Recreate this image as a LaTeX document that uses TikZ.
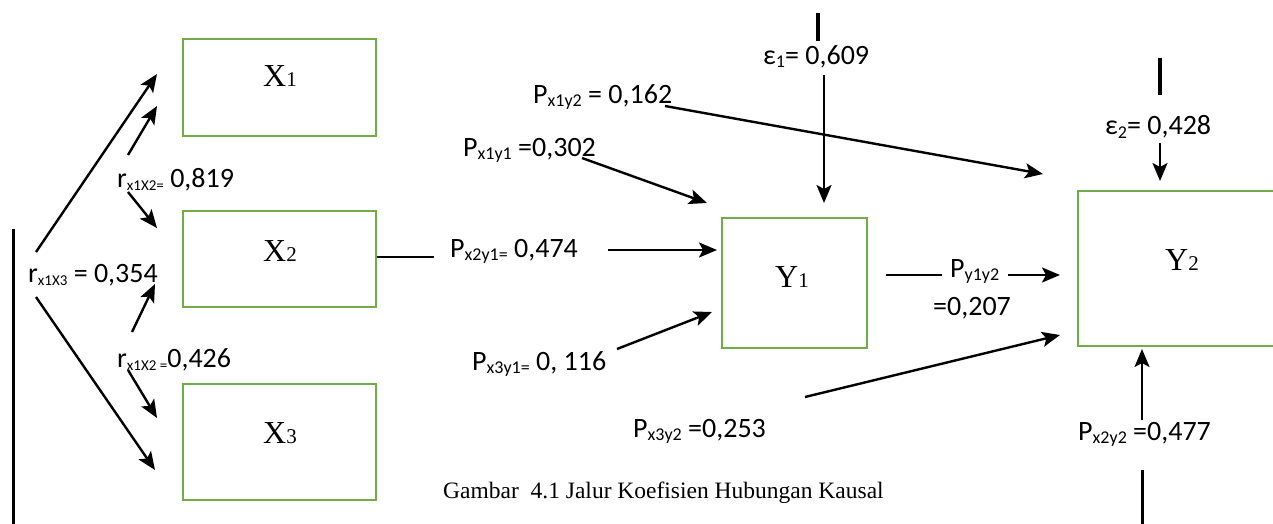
\documentclass[tikz,border=0pt]{standalone}
\usepackage{fontspec}
\setmainfont{Carlito}
\newfontfamily\tnr{Liberation Serif}
\usetikzlibrary{arrows.meta}
\definecolor{boxgreen}{RGB}{112,173,71}
\newcommand\subr[1]{\raisebox{-3pt}{\fontsize{15}{15}\selectfont #1}}
\newcommand\subp[1]{\raisebox{-3pt}{\fontsize{18}{18}\selectfont #1}}
\newcommand\subv[1]{{\fontsize{21}{21}\selectfont #1}}
\newcommand\lblfont{\fontsize{28}{30}\selectfont}
\begin{document}
\begin{tikzpicture}[x=1pt,y=-1pt,
 box/.style={draw=boxgreen,line width=2.4pt,inner sep=0pt},
 lab/.style={anchor=base west,inner sep=0pt,font=\lblfont},
 vlab/.style={anchor=base west,inner sep=0pt,font=\tnr\fontsize{32}{34}\selectfont},
 arr/.style={line width=2.4pt,-{Stealth[length=18pt,width=15pt,inset=4pt]}},
 ln/.style={line width=2.4pt},
 bar/.style={line width=4pt},
 ]
\useasboundingbox (0,0) rectangle (1273,524);
% boxes
\node[box,minimum width=193pt,minimum height=97pt] (X1) at (279.5,87.5) {};
\node[box,minimum width=193pt,minimum height=96pt] (X2) at (279.5,258.7) {};
\node[box,minimum width=193pt,minimum height=116pt] (X3) at (279.5,442) {};
\node[box,minimum width=145pt,minimum height=130pt] (Y1) at (794.5,283) {};
\node[box,minimum width=198pt,minimum height=155pt] (Y2) at (1177,268.5) {};
% box labels
\node[vlab] (tX1) at (263,87) {X\subv{1}};
\node[vlab] (tX2) at (263,261) {X\subv{2}};
\node[vlab] (tX3) at (263,443) {X\subv{3}};
\node[vlab] (tY1) at (775,287) {Y\subv{1}};
\node[vlab] (tY2) at (1165,270) {Y\subv{2}};
% coordinates
\coordinate (lbT) at (13,229); \coordinate (lbB) at (13,524);
\coordinate (a1s) at (36,252); \coordinate (a1e) at (157,74);
\coordinate (a2s) at (36,297); \coordinate (a2e) at (155,470);
\coordinate (a3s) at (128,155); \coordinate (a3e) at (157,106);
\coordinate (a4s) at (128,192); \coordinate (a4e) at (157,228);
\coordinate (a5s) at (132,332); \coordinate (a5e) at (155,284);
\coordinate (a6s) at (128,370); \coordinate (a6e) at (157,418);
\coordinate (x2out) at (434,257);
\coordinate (b1s) at (608,250); \coordinate (b1e) at (717,250);
\coordinate (b2s) at (582,158); \coordinate (b2e) at (707,203);
\coordinate (b3s) at (665,106); \coordinate (b3e) at (1043,174);
\coordinate (e1a) at (818,13); \coordinate (e1b) at (818,41);
\coordinate (e1s) at (824,75); \coordinate (e1e) at (824,203);
\coordinate (b4s) at (617,349); \coordinate (b4e) at (712,312);
\coordinate (b5s) at (805,397); \coordinate (b5e) at (1060,335);
\coordinate (c1s) at (886,275); \coordinate (c1m) at (942,275);
\coordinate (c1n) at (1008,275); \coordinate (c1e) at (1060,275);
\coordinate (e2a) at (1160,58); \coordinate (e2b) at (1160,95);
\coordinate (e2s) at (1160,143); \coordinate (e2e) at (1160,181);
\coordinate (d1s) at (1142,420); \coordinate (d1e) at (1142,349);
\coordinate (d2a) at (1142,470); \coordinate (d2b) at (1142,524);
% connectors
\draw[line width=3pt] (lbT) -- (lbB);
\draw[arr] (a1s) -- (a1e);
\draw[arr] (a2s) -- (a2e);
\draw[arr] (a3s) -- (a3e);
\draw[arr] (a4s) -- (a4e);
\draw[arr] (a5s) -- (a5e);
\draw[arr] (a6s) -- (a6e);
\draw[ln] (X2.east |- x2out) -- (x2out);
\draw[arr] (b1s) -- (b1e);
\draw[arr] (b2s) -- (b2e);
\draw[arr] (b3s) -- (b3e);
\draw[bar] (e1a) -- (e1b);
\draw[arr] (e1s) -- (e1e);
\draw[arr] (b4s) -- (b4e);
\draw[arr] (b5s) -- (b5e);
\draw[ln] (c1s) -- (c1m);
\draw[arr] (c1n) -- (c1e);
\draw[bar] (e2a) -- (e2b);
\draw[arr] (e2s) -- (e2e);
\draw[arr] (d1s) -- (d1e);
\draw[line width=3pt] (d2a) -- (d2b);
% labels
\node[lab] (r12) at (117,187) {r\subr{x1X2=} 0,819};
\node[lab] (r13) at (28,282) {r\subr{x1X3} = 0,354};
\node[lab] (r23) at (117,367) {r\subr{x1X2 =}0,426};
\node[lab] (p12) at (533,103) {P\subp{x1y2} = 0,162};
\node[lab] (p11) at (463,156) {P\subp{x1y1} =0,302};
\node[lab] (p21) at (450,257) {P\subp{x2y1=} 0,474};
\node[lab] (p31) at (472,370) {P\subp{x3y1=} 0, 116};
\node[lab] (p32) at (633,437) {P\subp{x3y2} =0,253};
\node[lab] (eps1) at (763,65) {ε\subp{1}= 0,609};
\node[lab] (eps2) at (1105,135) {ε\subp{2}= 0,428};
\node[lab] (pyy) at (950,277) {P\subp{y1y2}};
\node[lab] (pyyv) at (933,315) {=0,207};
\node[lab] (p22) at (1078,440) {P\subp{x2y2} =0,477};
\node[anchor=base west,inner sep=0pt,font=\tnr\fontsize{23.5}{25}\selectfont] (cap) at (443,498) {Gambar\ \ 4.1 Jalur Koefisien Hubungan Kausal};
\end{tikzpicture}
\end{document}
